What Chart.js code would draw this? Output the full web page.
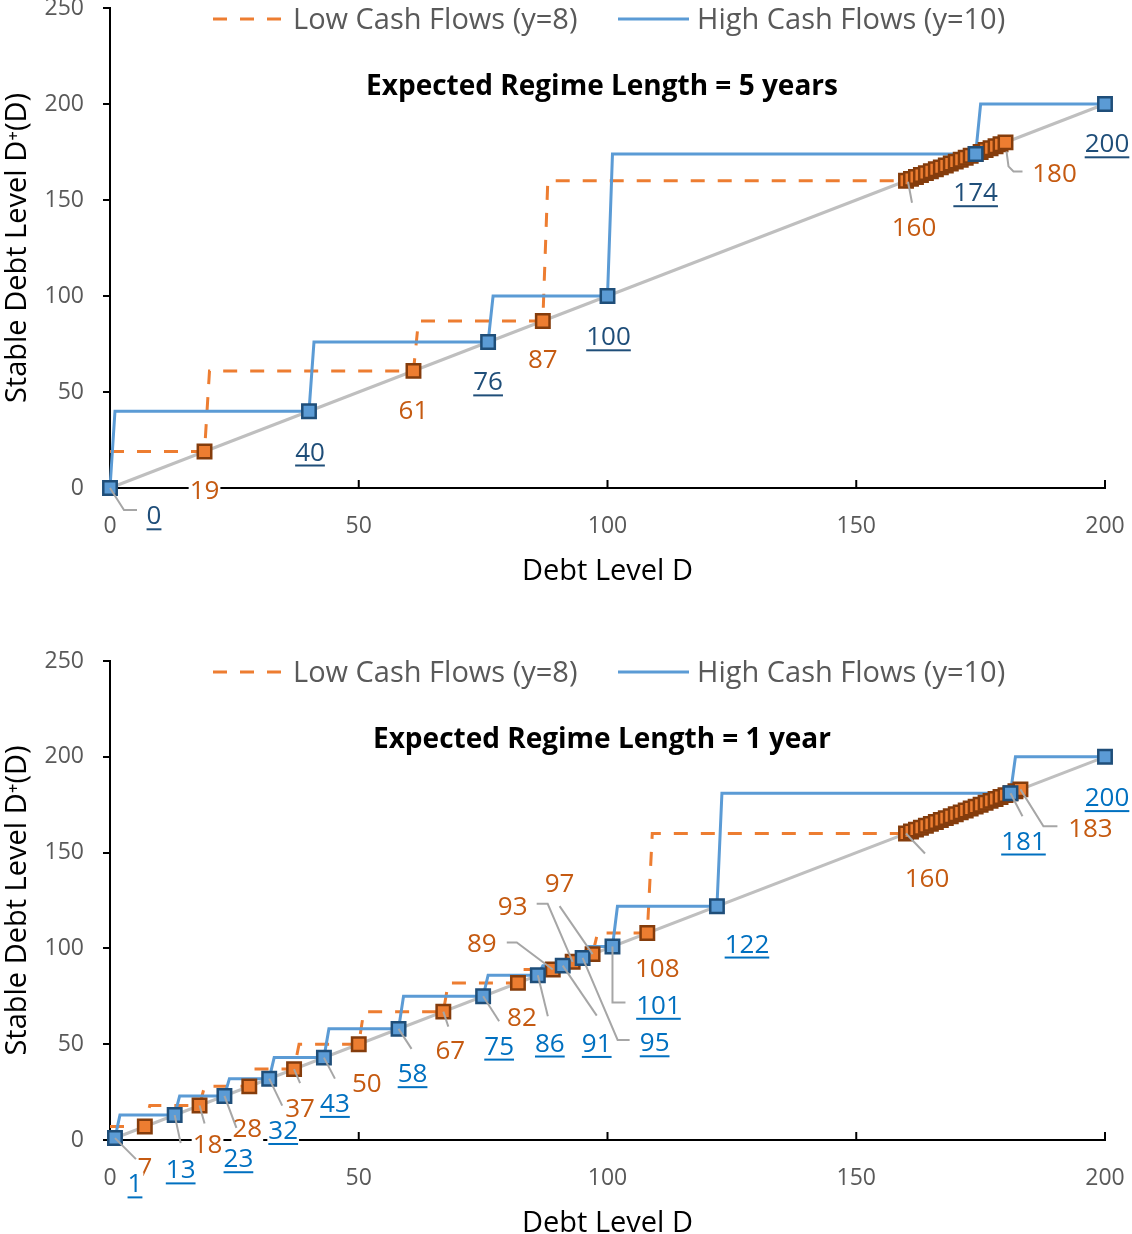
<!DOCTYPE html>
<html>
<head>
<meta charset="utf-8">
<script src="https://cdn.jsdelivr.net/npm/chart.js@4/dist/chart.umd.min.js"></script>
<style>
html,body{margin:0;padding:0;background:#fff;overflow:hidden}
canvas{display:block}
</style>
</head>
<body>
<canvas id="chart5y" width="1132" height="617"></canvas>
<canvas id="chart1y" width="1132" height="625"></canvas>
<script>
// ---- data ----
const ticksX = [0, 50, 100, 150, 200];
const ticksY = [0, 50, 100, 150, 200, 250];
const diagonal = [0, 200];
const seriesNames = ["Low Cash Flows (y=8)", "High Cash Flows (y=10)"];

// Expected regime length = 5 years
const lowStart5 = 19;
const lowStable5 = [19, 61, 87, 160, 161, 162, 163, 164, 165, 166, 167, 168, 169, 170,
  171, 172, 173, 174, 175, 176, 177, 178, 179, 180];
const lowLabeled5 = [19, 61, 87, 160, 180];
const highStart5 = 0;
const highStable5 = [0, 40, 76, 100, 174, 200];

// Expected regime length = 1 year
const lowStart1 = 7;
const lowStable1 = [7, 18, 28, 37, 50, 67, 82, 89, 93, 97, 108, 160, 161, 162, 163, 164,
  165, 166, 167, 168, 169, 170, 171, 172, 173, 174, 175, 176, 177, 178, 179, 180, 181, 182, 183];
const lowLabeled1 = [7, 18, 28, 37, 50, 67, 82, 89, 93, 97, 108, 160, 183];
const highStart1 = 1;
const highStable1 = [1, 13, 23, 32, 43, 58, 75, 86, 91, 95, 101, 122, 181, 200];

// ---- label placement (pixel offsets from the point, optional leader line) ----
const placeLow5 = {
  19: [0, 38], 61: [0, 39], 87: [0, 38],
  160: [8, 46, [[2, 1], [6, 22]]],
  180: [49, 30, [[1, 9], [3, 24], [8, 29], [17, 29]]]
};
const placeHigh5 = {
  0: [44, 27, [[0, 0], [14, 22], [27, 22]]],
  40: [1, 40], 76: [0, 39], 100: [1, 40], 174: [0, 38], 200: [2, 39]
};
const placeLow1 = {
  7: [0, 40],
  18: [8, 38, [[0, 0], [5, 18]]],
  28: [-2, 41],
  37: [6, 39, [[0, 0], [6, 14]]],
  50: [8, 38],
  67: [7, 38, [[0, 0], [5, 15]]],
  82: [4, 34],
  89: [-71, -27, [[0, 0], [-36, -27], [-46, -27]]],
  93: [-60, -56, [[0, 0], [-25, -58], [-36, -58]]],
  97: [-33, -71, [[0, 0], [-33, -48]]],
  108: [10, 35],
  160: [21, 44, [[0, 0], [19, 20]]],
  183: [70, 38, [[0, 0], [23, 37], [37, 37]]]
};
const placeHigh1 = {
  1: [20, 45, [[0, 0], [21, 21]]],
  13: [6, 54, [[0, 0], [6, 28]]],
  23: [14, 62, [[0, 0], [12, 32]]],
  32: [14, 51, [[0, 0], [13, 27]]],
  43: [11, 45, [[0, 0], [11, 21]]],
  58: [14, 44, [[0, 0], [13, 20]]],
  75: [16, 49, [[0, 0], [16, 25]]],
  86: [12, 67, [[0, 0], [10, 41]]],
  91: [34, 77, [[0, 0], [34, 50]]],
  95: [72, 84, [[0, 0], [35, 82], [47, 82]]],
  101: [46, 58, [[0, 0], [0, 56], [13, 56]]],
  122: [30, 37],
  181: [13, 47, [[0, 0], [12, 23]]],
  200: [2, 40]
};

const ORANGE = "#ed7d31", BLUE = "#5b9bd5";
Chart.defaults.font.family = "'Open Sans', 'Noto Sans', sans-serif";

// step function D+(D): jumps from a stable point straight to the next one
function stepLine(start, stable) {
  const pts = [{x: 0, y: start}];
  stable.forEach((s, i) => {
    pts.push({x: s, y: s});
    if (i < stable.length - 1) pts.push({x: s + 1, y: stable[i + 1]});
  });
  return pts;
}

function drawLabel(ctx, px, py, text, place, color, underline) {
  const [dx, dy, leader] = place;
  if (leader) {
    ctx.strokeStyle = "#a6a6a6";
    ctx.lineWidth = 2;
    ctx.setLineDash([]);
    ctx.beginPath();
    leader.forEach(([lx, ly], i) => i ? ctx.lineTo(px + lx, py + ly) : ctx.moveTo(px + lx, py + ly));
    ctx.stroke();
  }
  ctx.font = "26px 'Open Sans'";
  ctx.textAlign = "center";
  ctx.textBaseline = "alphabetic";
  const w = ctx.measureText(text).width;
  const cx = px + dx, base = py + dy + 9.3;
  ctx.fillStyle = "#fff";
  ctx.fillRect(cx - w / 2 - 1, base - 20, w + 2, 27);
  ctx.fillStyle = color;
  ctx.fillText(text, cx, base);
  if (underline) ctx.fillRect(cx - w / 2, base + 4, w, 2);
}

const decor = {
  id: "decor",
  afterDatasetsDraw(chart, args, o) {
    const ctx = chart.ctx, area = chart.chartArea;
    const sx = chart.scales.x, sy = chart.scales.y;
    const top = sy.getPixelForValue(250);
    ctx.save();
    // inner tick marks on the x axis
    ctx.strokeStyle = "#000";
    ctx.lineWidth = 2;
    ticksX.slice(1).forEach(v => {
      const px = sx.getPixelForValue(v);
      ctx.beginPath();
      ctx.moveTo(px, area.bottom);
      ctx.lineTo(px, area.bottom - 8);
      ctx.stroke();
    });
    // legend
    const ly = top + 11;
    ctx.lineWidth = 3;
    ctx.strokeStyle = ORANGE;
    ctx.setLineDash([14, 13]);
    ctx.beginPath(); ctx.moveTo(213, ly); ctx.lineTo(287, ly); ctx.stroke();
    ctx.setLineDash([]);
    ctx.strokeStyle = BLUE;
    ctx.beginPath(); ctx.moveTo(618, ly); ctx.lineTo(689, ly); ctx.stroke();
    ctx.font = "29px 'Open Sans'";
    ctx.fillStyle = "#595959";
    ctx.textAlign = "left";
    ctx.textBaseline = "alphabetic";
    ctx.fillText(seriesNames[0], 293, top + 21);
    ctx.fillText(seriesNames[1], 697, top + 21);
    // title inside the plot
    ctx.font = "bold 28px 'Open Sans'";
    ctx.fillStyle = "#000";
    ctx.textAlign = "center";
    ctx.fillText(o.title, 602, top + 87);
    // data labels
    o.low.forEach(v => drawLabel(ctx, sx.getPixelForValue(v), sy.getPixelForValue(v), String(v), o.placeLow[v], "#c55a11", false));
    o.high.forEach(v => drawLabel(ctx, sx.getPixelForValue(v), sy.getPixelForValue(v), String(v), o.placeHigh[v], o.blueText, true));
    ctx.restore();
  }
};

function buildChart(id, c) {
  return new Chart(document.getElementById(id), {
    type: "scatter",
    data: {
      datasets: [
        {
          label: "High stable",
          data: c.highStable.map(v => ({x: v, y: v})),
          pointStyle: "rect", pointRadius: 9.5, pointHoverRadius: 9.5,
          backgroundColor: BLUE, borderColor: "#1f4e79", borderWidth: 2.5,
          clip: false, order: 0
        },
        {
          label: "Low stable",
          data: c.lowStable.map(v => ({x: v, y: v})),
          pointStyle: "rect", pointRadius: 9.5, pointHoverRadius: 9.5,
          backgroundColor: ORANGE, borderColor: "#843c0c", borderWidth: 2.5,
          clip: false, order: 1
        },
        {
          label: seriesNames[1],
          data: stepLine(c.highStart, c.highStable),
          showLine: true, borderColor: BLUE, borderWidth: 3, pointRadius: 0,
          clip: false, order: 2
        },
        {
          label: seriesNames[0],
          data: stepLine(c.lowStart, c.lowStable),
          showLine: true, borderColor: ORANGE, borderWidth: 3, borderDash: [14, 13], pointRadius: 0,
          clip: false, order: 3
        },
        {
          label: "D+ = D",
          data: diagonal.map(v => ({x: v, y: v})),
          showLine: true, borderColor: "#bfbfbf", borderWidth: 3, pointRadius: 0,
          clip: false, order: 4
        }
      ]
    },
    options: {
      responsive: false,
      animation: false,
      devicePixelRatio: 1,
      layout: {padding: c.padding, autoPadding: false},
      scales: {
        x: {
          type: "linear", min: 0, max: 200,
          afterBuildTicks: s => { s.ticks = ticksX.map(v => ({value: v})); },
          grid: {display: false, drawTicks: false},
          border: {display: true, color: "#000", width: 2},
          ticks: {color: "#595959", font: {size: 23}, padding: 25, maxRotation: 0, autoSkip: false},
          title: {display: true, text: "Debt Level D", color: "#000", font: {size: 29}, padding: 0},
          afterFit: s => { s.height = 101; s.paddingLeft = 0; s.paddingRight = 0; }
        },
        y: {
          type: "linear", min: 0, max: 250,
          afterBuildTicks: s => { s.ticks = ticksY.map(v => ({value: v})); },
          grid: {display: true, drawOnChartArea: false, drawTicks: true, tickLength: 7, color: "#000", lineWidth: 2},
          border: {display: true, color: "#000", width: 2},
          ticks: {color: "#595959", font: {size: 23}, padding: 19},
          title: {display: true, text: "Stable Debt Level D\u207A(D)", color: "#000", font: {size: 29}, padding: 0},
          afterFit: s => { s.width = 110; s.paddingTop = 0; s.paddingBottom = 0; }
        }
      },
      plugins: {
        legend: {display: false},
        tooltip: {enabled: false},
        decor: {
          title: c.title,
          low: c.lowLabeled, high: c.highStable,
          placeLow: c.placeLow, placeHigh: c.placeHigh,
          blueText: c.blueText
        }
      }
    },
    plugins: [decor]
  });
}

// Expected Regime Length = 5 years
buildChart("chart5y", {
  title: "Expected Regime Length = 5 years",
  lowStart: lowStart5, lowStable: lowStable5, lowLabeled: lowLabeled5,
  highStart: highStart5, highStable: highStable5,
  placeLow: placeLow5, placeHigh: placeHigh5,
  blueText: "#1f4e79",
  padding: {top: 8, left: 0, right: 27, bottom: 28}
});

// Expected Regime Length = 1 year
buildChart("chart1y", {
  title: "Expected Regime Length = 1 year",
  lowStart: lowStart1, lowStable: lowStable1, lowLabeled: lowLabeled1,
  highStart: highStart1, highStable: highStable1,
  placeLow: placeLow1, placeHigh: placeHigh1,
  blueText: "#0070c0",
  padding: {top: 44, left: 0, right: 27, bottom: 1}
});
</script>
</body>
</html>
